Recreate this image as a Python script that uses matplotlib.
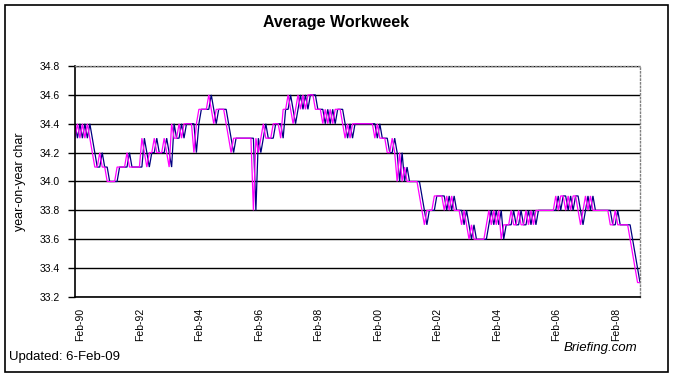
import matplotlib
matplotlib.use("Agg")
import matplotlib.pyplot as plt
import matplotlib.transforms as mtransforms
from matplotlib.patches import Rectangle

plt.rcParams['font.family'] = ['Liberation Sans', 'DejaVu Sans']

# monthly values, Jan-90 .. Jan-09 (one line per year)
magenta = [
    34.3, 34.4, 34.3, 34.4, 34.3, 34.4, 34.3, 34.2, 34.1, 34.1, 34.2, 34.1,
    34.1, 34.0, 34.0, 34.0, 34.0, 34.1, 34.1, 34.1, 34.1, 34.2, 34.1, 34.1,
    34.1, 34.1, 34.1, 34.3, 34.2, 34.1, 34.2, 34.2, 34.3, 34.2, 34.2, 34.2,
    34.3, 34.2, 34.1, 34.4, 34.3, 34.3, 34.4, 34.3, 34.4, 34.4, 34.4, 34.4,
    34.2, 34.4, 34.5, 34.5, 34.5, 34.5, 34.6, 34.5, 34.4, 34.5, 34.5, 34.5,
    34.5, 34.4, 34.3, 34.2, 34.3, 34.3, 34.3, 34.3, 34.3, 34.3, 34.3, 34.3,
    33.8, 34.3, 34.2, 34.3, 34.4, 34.3, 34.3, 34.3, 34.4, 34.4, 34.4, 34.3,
    34.5, 34.5, 34.6, 34.5, 34.4, 34.5, 34.6, 34.5, 34.6, 34.5, 34.6, 34.6,
    34.6, 34.5, 34.5, 34.5, 34.4, 34.5, 34.4, 34.5, 34.4, 34.5, 34.5, 34.5,
    34.4, 34.3, 34.4, 34.3, 34.4, 34.4, 34.4, 34.4, 34.4, 34.4, 34.4, 34.4,
    34.4, 34.3, 34.4, 34.3, 34.3, 34.3, 34.2, 34.2, 34.3, 34.2, 34.0, 34.2,
    34.0, 34.1, 34.0, 34.0, 34.0, 34.0, 34.0, 33.9, 33.8, 33.7, 33.8, 33.8,
    33.8, 33.9, 33.9, 33.9, 33.9, 33.8, 33.9, 33.8, 33.9, 33.8, 33.8, 33.8,
    33.7, 33.8, 33.7, 33.6, 33.7, 33.6, 33.6, 33.6, 33.6, 33.6, 33.7, 33.8,
    33.7, 33.8, 33.7, 33.8, 33.6, 33.7, 33.7, 33.7, 33.8, 33.7, 33.7, 33.8,
    33.7, 33.7, 33.8, 33.7, 33.8, 33.7, 33.8, 33.8, 33.8, 33.8, 33.8, 33.8,
    33.8, 33.8, 33.9, 33.8, 33.9, 33.9, 33.8, 33.9, 33.8, 33.9, 33.9, 33.8,
    33.7, 33.8, 33.9, 33.8, 33.9, 33.8, 33.8, 33.8, 33.8, 33.8, 33.8, 33.8,
    33.7, 33.7, 33.8, 33.7, 33.7, 33.7, 33.7, 33.7, 33.6, 33.5, 33.4, 33.3,
    33.3,
]

blue = [
    34.4, 34.3, 34.4, 34.3, 34.4, 34.3, 34.4, 34.3, 34.2, 34.1, 34.1, 34.2,
    34.1, 34.1, 34.0, 34.0, 34.0, 34.0, 34.1, 34.1, 34.1, 34.1, 34.2, 34.1,
    34.1, 34.1, 34.1, 34.1, 34.3, 34.2, 34.1, 34.2, 34.2, 34.3, 34.2, 34.2,
    34.2, 34.3, 34.2, 34.1, 34.4, 34.3, 34.3, 34.4, 34.3, 34.4, 34.4, 34.4,
    34.4, 34.2, 34.4, 34.5, 34.5, 34.5, 34.5, 34.6, 34.5, 34.4, 34.5, 34.5,
    34.5, 34.5, 34.4, 34.3, 34.2, 34.3, 34.3, 34.3, 34.3, 34.3, 34.3, 34.3,
    34.3, 33.8, 34.3, 34.2, 34.3, 34.4, 34.3, 34.3, 34.3, 34.4, 34.4, 34.4,
    34.3, 34.5, 34.5, 34.6, 34.5, 34.4, 34.5, 34.6, 34.5, 34.6, 34.5, 34.6,
    34.6, 34.6, 34.5, 34.5, 34.5, 34.4, 34.5, 34.4, 34.5, 34.4, 34.5, 34.5,
    34.5, 34.4, 34.3, 34.4, 34.3, 34.4, 34.4, 34.4, 34.4, 34.4, 34.4, 34.4,
    34.4, 34.4, 34.3, 34.4, 34.3, 34.3, 34.3, 34.2, 34.2, 34.3, 34.2, 34.0,
    34.2, 34.0, 34.1, 34.0, 34.0, 34.0, 34.0, 34.0, 33.9, 33.8, 33.7, 33.8,
    33.8, 33.8, 33.9, 33.9, 33.9, 33.9, 33.8, 33.9, 33.8, 33.9, 33.8, 33.8,
    33.8, 33.7, 33.8, 33.7, 33.6, 33.7, 33.6, 33.6, 33.6, 33.6, 33.6, 33.7,
    33.8, 33.7, 33.8, 33.7, 33.8, 33.6, 33.7, 33.7, 33.7, 33.8, 33.7, 33.7,
    33.8, 33.7, 33.7, 33.8, 33.7, 33.8, 33.7, 33.8, 33.8, 33.8, 33.8, 33.8,
    33.8, 33.8, 33.8, 33.9, 33.8, 33.9, 33.9, 33.8, 33.9, 33.8, 33.9, 33.9,
    33.8, 33.7, 33.8, 33.9, 33.8, 33.9, 33.8, 33.8, 33.8, 33.8, 33.8, 33.8,
    33.8, 33.7, 33.7, 33.8, 33.7, 33.7, 33.7, 33.7, 33.7, 33.6, 33.5, 33.4,
    33.3,
]

tick_pos = [1, 25, 49, 73, 97, 121, 145, 169, 193, 217]
tick_labels = ['Feb-90', 'Feb-92', 'Feb-94', 'Feb-96', 'Feb-98',
               'Feb-00', 'Feb-02', 'Feb-04', 'Feb-06', 'Feb-08']
y_ticks = [33.2, 33.4, 33.6, 33.8, 34.0, 34.2, 34.4, 34.6, 34.8]

fig = plt.figure(figsize=(6.73, 3.78), dpi=100)
ax = fig.add_axes([0.1114, 0.2143, 0.8396, 0.6111])

x = list(range(len(magenta)))
ax.plot(x, blue, color='#000080', lw=0.9, solid_joinstyle='miter')
ax.plot(x, magenta, color='#ff00ff', lw=0.9, solid_joinstyle='miter')

ax.set_xlim(0, len(magenta) - 1)
ax.set_ylim(33.2, 34.8)
ax.set_yticks(y_ticks)
ax.set_yticklabels(['%.1f' % v for v in y_ticks], fontsize=7.5)
ax.yaxis.grid(True, color='black', lw=1.0)
ax.set_axisbelow(True)

ax.set_xticks(tick_pos)
ax.set_xticklabels(tick_labels, rotation=90, fontsize=7.5,
                   va='top', ha='center')
ax.tick_params(axis='x', length=0, pad=8)
ax.tick_params(axis='y', direction='out', length=5, width=1, pad=6)
shift = mtransforms.ScaledTranslation(3 / 100, 0, fig.dpi_scale_trans)
for lab in ax.get_xticklabels():
    lab.set_transform(lab.get_transform() + shift)

for side in ['left', 'bottom']:
    ax.spines[side].set_color('black')
    ax.spines[side].set_linewidth(1.2)
for side in ['top', 'right']:
    ax.spines[side].set_color('#808080')
    ax.spines[side].set_linestyle(':')
    ax.spines[side].set_linewidth(1.0)

ax.set_ylabel('year-on-year char', fontsize=9, labelpad=10)

fig.text(0.5, 0.94, 'Average Workweek', ha='center', va='center',
         fontsize=11.5, fontweight='bold')
fig.text(0.014, 0.055, 'Updated: 6-Feb-09', ha='left', va='center', fontsize=9.5)
fig.text(0.947, 0.08, 'Briefing.com', ha='right', va='center', fontsize=9.5,
         style='italic')

fig.patches.append(Rectangle((0.008, 0.016), 0.984, 0.97, transform=fig.transFigure,
                             fill=False, edgecolor='black', lw=1.2))

fig.savefig('out.png', dpi=100)
